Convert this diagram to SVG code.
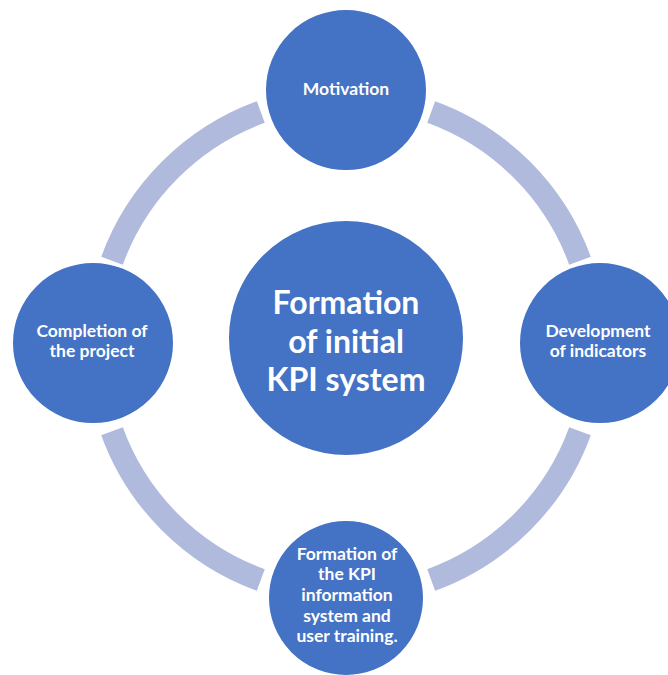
<svg xmlns="http://www.w3.org/2000/svg" width="668" height="675" viewBox="0 0 668 675">
<style>
.arc{fill:none;stroke:#AFBADC;stroke-width:23;stroke-linecap:butt}
.node{fill:#4472C4;stroke:#FFFFFF;stroke-width:2}
.t{fill:#FFFFFF;font-family:Lato,"Liberation Sans",sans-serif;font-weight:bold;text-anchor:middle}
.s{font-size:17.5px}
.b{font-size:32px}
</style>
<rect width="668" height="675" fill="#FFFFFF"/>
<g id="connectors">
<path class="arc" d="M431.2,112.0 A249,249 0 0 1 580.0,260.8"/>
<path class="arc" d="M580.0,431.2 A249,249 0 0 1 431.2,580.0"/>
<path class="arc" d="M260.8,580.0 A249,249 0 0 1 112.0,431.2"/>
<path class="arc" d="M112.0,260.8 A249,249 0 0 1 260.8,112.0"/>
</g>
<g id="center">
<circle class="node" cx="346" cy="338" r="118"/>
<text class="t b" x="346" y="314">Formation</text>
<text class="t b" x="346" y="353">of initial</text>
<text class="t b" x="346" y="391">KPI system</text>
</g>
<g id="motivation">
<circle class="node" cx="346" cy="90" r="81"/>
<text class="t s" x="346" y="95">Motivation</text>
</g>
<g id="development">
<circle class="node" cx="600" cy="343" r="81"/>
<text class="t s" x="598" y="337">Development</text>
<text class="t s" x="598" y="357">of indicators</text>
</g>
<g id="formation-kpi">
<circle class="node" cx="346" cy="598" r="78"/>
<text class="t s" x="347" y="560">Formation of</text>
<text class="t s" x="347" y="580">the KPI</text>
<text class="t s" x="347" y="601">information</text>
<text class="t s" x="347" y="622">system and</text>
<text class="t s" x="347" y="642">user training.</text>
</g>
<g id="completion">
<circle class="node" cx="93" cy="343" r="81"/>
<text class="t s" x="92" y="337">Completion of</text>
<text class="t s" x="92" y="357">the project</text>
</g>
</svg>
